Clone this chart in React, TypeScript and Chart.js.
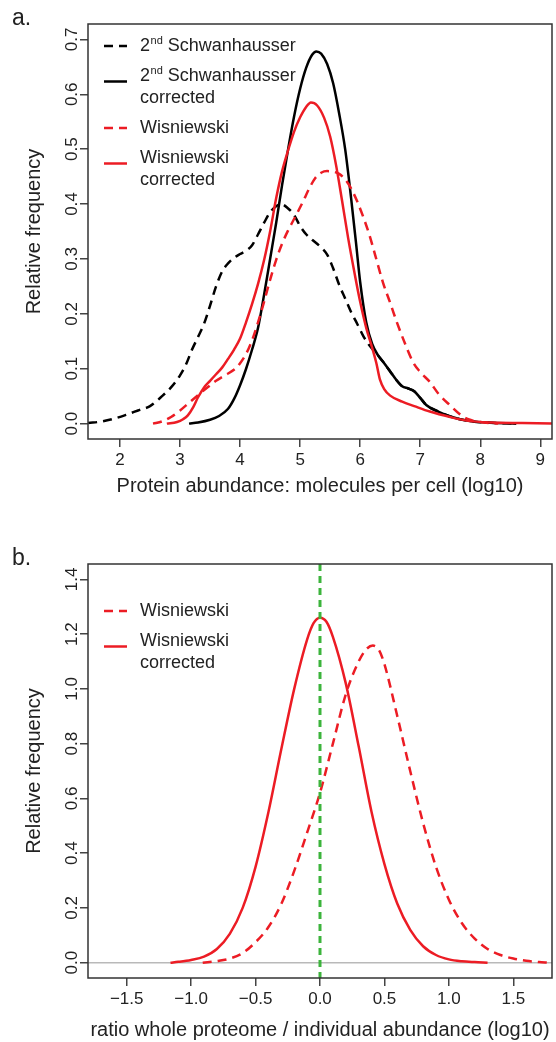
import React, { useEffect, useRef } from 'react';
import { Chart, registerables } from 'chart.js';

Chart.register(...registerables);

const FONT = '"Liberation Sans", Arial, Helvetica, sans-serif';
const RED = '#ec1c24';
const BLACK = '#000000';
const GREEN = '#3cb43c';
const GREY = '#b9b9b9';

// ---------- Panel a: protein abundance densities ----------
const schwX = [1.47, 1.7, 1.9, 2.1, 2.3, 2.5, 2.7, 2.85, 3.0, 3.1, 3.2, 3.3, 3.4, 3.5, 3.6, 3.7, 3.8, 3.9, 4.0, 4.1, 4.2, 4.3, 4.4, 4.5, 4.6, 4.68, 4.8, 4.9, 5.0, 5.1, 5.2, 5.33, 5.45, 5.55, 5.65, 5.75, 5.85, 5.95, 6.05, 6.15, 6.25, 6.3, 6.4, 6.5, 6.6, 6.7, 6.8, 6.9, 7.0, 7.1, 7.3, 7.5, 7.8, 8.1, 8.6];
const schwY = [0.001, 0.004, 0.009, 0.016, 0.024, 0.032, 0.05, 0.066, 0.088, 0.108, 0.135, 0.158, 0.182, 0.215, 0.25, 0.277, 0.292, 0.302, 0.309, 0.315, 0.325, 0.345, 0.366, 0.385, 0.396, 0.4, 0.392, 0.38, 0.36, 0.345, 0.335, 0.323, 0.308, 0.283, 0.253, 0.228, 0.203, 0.182, 0.16, 0.143, 0.13, 0.124, 0.11, 0.095, 0.08, 0.068, 0.064, 0.059, 0.047, 0.034, 0.022, 0.013, 0.005, 0.002, 0.0];

const schwCorrX = [3.15, 3.3, 3.5, 3.65, 3.8, 3.9, 4.0, 4.1, 4.2, 4.3, 4.4, 4.5, 4.6, 4.7, 4.8, 4.9, 5.0, 5.1, 5.2, 5.27, 5.35, 5.45, 5.55, 5.65, 5.75, 5.85, 5.93, 6.0, 6.1, 6.2, 6.3, 6.4, 6.5, 6.6, 6.7, 6.8, 6.9, 7.0, 7.1, 7.3, 7.5, 7.8, 8.1, 8.6];
const schwCorrY = [0.0, 0.002, 0.007, 0.014, 0.027, 0.045, 0.07, 0.1, 0.135, 0.175, 0.235, 0.3, 0.365, 0.435, 0.5, 0.56, 0.61, 0.648, 0.672, 0.678, 0.674, 0.655, 0.62, 0.565, 0.5, 0.41, 0.33, 0.258, 0.185, 0.145, 0.124, 0.11, 0.095, 0.08, 0.068, 0.064, 0.059, 0.047, 0.034, 0.022, 0.013, 0.005, 0.002, 0.0];

const wisX = [2.55, 2.7, 2.85, 3.0, 3.15, 3.3, 3.47, 3.6, 3.75, 3.92, 4.0, 4.1, 4.2, 4.3, 4.4, 4.5, 4.6, 4.7, 4.8, 4.92, 5.05, 5.15, 5.25, 5.35, 5.45, 5.55, 5.65, 5.75, 5.85, 5.95, 6.05, 6.15, 6.25, 6.38, 6.5, 6.61, 6.75, 6.88, 7.0, 7.16, 7.3, 7.5, 7.65, 7.8, 8.0, 8.3];
const wisY = [0.0, 0.004, 0.012, 0.024, 0.038, 0.052, 0.067, 0.078, 0.088, 0.1, 0.11, 0.127, 0.152, 0.185, 0.222, 0.262, 0.298, 0.328, 0.352, 0.377, 0.405, 0.428, 0.447, 0.457, 0.46, 0.459, 0.455, 0.445, 0.428, 0.405, 0.377, 0.345, 0.307, 0.257, 0.22, 0.185, 0.145, 0.112, 0.094, 0.076, 0.055, 0.033, 0.018, 0.008, 0.003, 0.0];

const wisCorrX = [2.78, 2.95, 3.05, 3.13, 3.22, 3.3, 3.4, 3.5, 3.6, 3.7, 3.8, 3.9, 4.0, 4.1, 4.2, 4.3, 4.4, 4.5, 4.6, 4.7, 4.8, 4.9, 5.0, 5.1, 5.18, 5.28, 5.4, 5.5, 5.6, 5.7, 5.8, 5.9, 6.0, 6.1, 6.2, 6.27, 6.33, 6.4, 6.5, 6.7, 6.9, 7.16, 7.5, 7.8, 8.2, 8.7, 9.2];
const wisCorrY = [0.0, 0.003, 0.008, 0.015, 0.03, 0.048, 0.066, 0.078, 0.09, 0.102, 0.118, 0.135, 0.155, 0.185, 0.218, 0.255, 0.298, 0.35, 0.41, 0.46, 0.498, 0.532, 0.558, 0.577, 0.585, 0.58, 0.557, 0.523, 0.47, 0.405, 0.338, 0.278, 0.222, 0.175, 0.138, 0.11, 0.08, 0.063, 0.051, 0.04, 0.032, 0.022, 0.012, 0.005, 0.002, 0.001, 0.0];

const xTicksA = [2, 3, 4, 5, 6, 7, 8, 9];
const xTickLabelsA = ['2', '3', '4', '5', '6', '7', '8', '9'];
const yTicksA = [0, 0.1, 0.2, 0.3, 0.4, 0.5, 0.6, 0.7];
const yTickLabelsA = ['0.0', '0.1', '0.2', '0.3', '0.4', '0.5', '0.6', '0.7'];
const xRangeA = [1.467, 9.195];
const yRangeA = [-0.028, 0.728];
const legendLabelsA = [['2nd Schwanhausser'], ['2nd Schwanhausser', 'corrected'], ['Wisniewski'], ['Wisniewski', 'corrected']];

// ---------- Panel b: ratio densities ----------
const ratioX = [-0.91, -0.8, -0.7, -0.6, -0.5, -0.4, -0.3, -0.2, -0.1, 0.0, 0.1, 0.2, 0.3, 0.36, 0.41, 0.46, 0.5, 0.6, 0.7, 0.8, 0.9, 1.0, 1.1, 1.2, 1.3, 1.4, 1.5, 1.6, 1.7, 1.77];
const ratioY = [0.0, 0.006, 0.015, 0.035, 0.075, 0.13, 0.215, 0.335, 0.475, 0.62, 0.8, 0.98, 1.1, 1.145, 1.158, 1.14, 1.09, 0.9, 0.7, 0.51, 0.35, 0.23, 0.145, 0.088, 0.05, 0.028, 0.015, 0.007, 0.002, 0.0];

const ratioCorrX = [-1.16, -1.1, -1.0, -0.9, -0.8, -0.7, -0.6, -0.5, -0.4, -0.3, -0.2, -0.1, -0.05, 0.0, 0.05, 0.1, 0.2, 0.3, 0.4, 0.5, 0.6, 0.7, 0.8, 0.9, 1.0, 1.1, 1.2, 1.3];
const ratioCorrY = [0.0, 0.003, 0.01, 0.022, 0.05, 0.105, 0.2, 0.35, 0.55, 0.78, 1.0, 1.18, 1.24, 1.26, 1.245, 1.19, 1.02, 0.79, 0.55, 0.36, 0.215, 0.12, 0.06, 0.028, 0.012, 0.005, 0.002, 0.0];

const refLineX = 0;
const baselineY = 0;

const xTicksB = [-1.5, -1.0, -0.5, 0.0, 0.5, 1.0, 1.5];
const xTickLabelsB = ['\u22121.5', '\u22121.0', '\u22120.5', '0.0', '0.5', '1.0', '1.5'];
const yTicksB = [0, 0.2, 0.4, 0.6, 0.8, 1.0, 1.2, 1.4];
const yTickLabelsB = ['0.0', '0.2', '0.4', '0.6', '0.8', '1.0', '1.2', '1.4'];
const xRangeB = [-1.8, 1.8];
const yRangeB = [-0.056, 1.456];
const legendLabelsB = [['Wisniewski'], ['Wisniewski', 'corrected']];

const zip = (xs: number[], ys: number[]) => xs.map((x, i) => ({ x, y: ys[i] }));

function drawLabel(ctx: any, text: string, x: number, y: number) {
  const m = text.match(/^(\d+)(st|nd|rd|th)(.*)$/);
  if (!m) {
    ctx.fillText(text, x, y);
    return;
  }
  const base = ctx.font;
  ctx.fillText(m[1], x, y);
  const w1 = ctx.measureText(m[1]).width;
  ctx.font = `11px ${FONT}`;
  ctx.fillText(m[2], x + w1 + 0.5, y - 5);
  const w2 = ctx.measureText(m[2]).width;
  ctx.font = base;
  ctx.fillText(m[3], x + w1 + 0.5 + w2, y);
}

const rPlugin = {
  id: 'rstyle',
  afterDatasetsDraw(chart: any, _args: any, opts: any) {
    const { ctx, chartArea: ca } = chart;
    ctx.save();
    ctx.strokeStyle = '#333333';
    ctx.lineWidth = 1.5;
    ctx.setLineDash([]);
    ctx.strokeRect(ca.left, ca.top, ca.right - ca.left, ca.bottom - ca.top);
    const ys = chart.scales.y;
    ctx.fillStyle = '#222222';
    ctx.font = `17px ${FONT}`;
    ctx.textAlign = 'center';
    ctx.textBaseline = 'alphabetic';
    ys.ticks.forEach((t: any) => {
      const py = ys.getPixelForValue(t.value);
      ctx.save();
      ctx.translate(opts.yLabelX, py);
      ctx.rotate(-Math.PI / 2);
      ctx.fillText(t.label, 0, 0);
      ctx.restore();
    });
    ctx.textAlign = 'left';
    ctx.font = `23px ${FONT}`;
    ctx.fillText(opts.panel, 12, opts.panelY);
    ctx.font = `18px ${FONT}`;
    ctx.textBaseline = 'middle';
    let y = opts.legendY;
    opts.legend.forEach((lines: string[], i: number) => {
      const ds = chart.data.datasets[i];
      const ly = lines.length > 1 ? y + 5.5 : y;
      ctx.save();
      ctx.strokeStyle = ds.borderColor;
      ctx.lineWidth = ds.borderWidth;
      ctx.setLineDash(ds.borderDash || []);
      ctx.beginPath();
      ctx.moveTo(104, ly);
      ctx.lineTo(127, ly);
      ctx.stroke();
      ctx.restore();
      lines.forEach((line: string, k: number) => {
        drawLabel(ctx, line, 140, y + k * 22);
      });
      y += (lines.length - 1) * 22 + 30;
    });
    ctx.restore();
  },
};

function xScale(range: number[], ticks: number[], labels: string[], title: string, axisH: number, titlePad: number) {
  return {
    type: 'linear',
    min: range[0],
    max: range[1],
    afterBuildTicks: (s: any) => {
      s.ticks = ticks.map((v) => ({ value: v }));
    },
    afterFit: (s: any) => {
      s.height = axisH;
    },
    ticks: {
      autoSkip: false,
      maxRotation: 0,
      minRotation: 0,
      padding: 3,
      color: '#222222',
      font: { family: FONT, size: 17 },
      callback: (_v: any, i: number) => labels[i],
    },
    grid: { drawOnChartArea: false, drawTicks: true, tickLength: 8, tickColor: '#444444', lineWidth: 1.5 },
    border: { display: false },
    title: {
      display: true,
      text: title,
      color: '#222222',
      font: { family: FONT, size: 20 },
      padding: { top: 0, bottom: titlePad },
    },
  };
}

function yScale(range: number[], ticks: number[], labels: string[]) {
  return {
    type: 'linear',
    min: range[0],
    max: range[1],
    afterBuildTicks: (s: any) => {
      s.ticks = ticks.map((v) => ({ value: v }));
    },
    afterFit: (s: any) => {
      s.width = 88;
    },
    ticks: {
      autoSkip: false,
      color: 'rgba(0,0,0,0)',
      font: { family: FONT, size: 17 },
      callback: (_v: any, i: number) => labels[i],
    },
    grid: { drawOnChartArea: false, drawTicks: true, tickLength: 8, tickColor: '#444444', lineWidth: 1.5 },
    border: { display: false },
    title: {
      display: true,
      text: 'Relative frequency',
      color: '#222222',
      font: { family: FONT, size: 20 },
      padding: { top: 22, bottom: 0 },
    },
  };
}

const lineStyle = { pointRadius: 0, fill: false, cubicInterpolationMode: 'monotone' };

function configA(): any {
  return {
    type: 'line',
    data: {
      datasets: [
        { ...lineStyle, data: zip(schwX, schwY), borderColor: BLACK, borderWidth: 2.5, borderDash: [9, 6], order: 4 },
        { ...lineStyle, data: zip(schwCorrX, schwCorrY), borderColor: BLACK, borderWidth: 2.5, order: 3 },
        { ...lineStyle, data: zip(wisX, wisY), borderColor: RED, borderWidth: 2.5, borderDash: [9, 6], order: 2 },
        { ...lineStyle, data: zip(wisCorrX, wisCorrY), borderColor: RED, borderWidth: 2.5, order: 1 },
      ],
    },
    options: {
      responsive: false,
      animation: false,
      devicePixelRatio: 1,
      layout: { padding: { left: 0, right: 4, top: 24, bottom: 0 } },
      plugins: {
        legend: { display: false },
        tooltip: { enabled: false },
        rstyle: { yLabelX: 77, panel: 'a.', panelY: 25, legend: legendLabelsA, legendY: 46 },
      },
      scales: {
        x: xScale(xRangeA, xTicksA, xTickLabelsA, 'Protein abundance: molecules per cell (log10)', 82, 23),
        y: yScale(yRangeA, yTicksA, yTickLabelsA),
      },
    },
    plugins: [rPlugin],
  };
}

function configB(): any {
  return {
    type: 'line',
    data: {
      datasets: [
        { ...lineStyle, data: zip(ratioX, ratioY), borderColor: RED, borderWidth: 2.5, borderDash: [9, 6], order: 3 },
        { ...lineStyle, data: zip(ratioCorrX, ratioCorrY), borderColor: RED, borderWidth: 2.5, order: 2 },
        {
          pointRadius: 0,
          tension: 0,
          data: [
            { x: xRangeB[0], y: baselineY },
            { x: xRangeB[1], y: baselineY },
          ],
          borderColor: GREY,
          borderWidth: 1.5,
          order: 5,
        },
        {
          pointRadius: 0,
          tension: 0,
          data: [
            { x: refLineX, y: yRangeB[1] },
            { x: refLineX, y: yRangeB[0] },
          ],
          borderColor: GREEN,
          borderWidth: 3,
          borderDash: [7, 5],
          order: 1,
        },
      ],
    },
    options: {
      responsive: false,
      animation: false,
      devicePixelRatio: 1,
      layout: { padding: { left: 0, right: 4, top: 43, bottom: 0 } },
      plugins: {
        legend: { display: false },
        tooltip: { enabled: false },
        rstyle: { yLabelX: 77, panel: 'b.', panelY: 44, legend: legendLabelsB, legendY: 90 },
      },
      scales: {
        x: xScale(xRangeB, xTicksB, xTickLabelsB, 'ratio whole proteome / individual abundance (log10)', 64, 0),
        y: yScale(yRangeB, yTicksB, yTickLabelsB),
      },
    },
    plugins: [rPlugin],
  };
}

export default function App() {
  const refA = useRef<HTMLCanvasElement>(null);
  const refB = useRef<HTMLCanvasElement>(null);
  useEffect(() => {
    const a = new Chart(refA.current as HTMLCanvasElement, configA());
    const b = new Chart(refB.current as HTMLCanvasElement, configB());
    return () => {
      a.destroy();
      b.destroy();
    };
  }, []);
  return (
    <div style={{ position: 'absolute', left: 0, top: 0, width: 556, height: 1042, background: '#ffffff' }}>
      <canvas ref={refA} width={556} height={521} style={{ display: 'block' }} />
      <canvas ref={refB} width={556} height={521} style={{ display: 'block' }} />
    </div>
  );
}
